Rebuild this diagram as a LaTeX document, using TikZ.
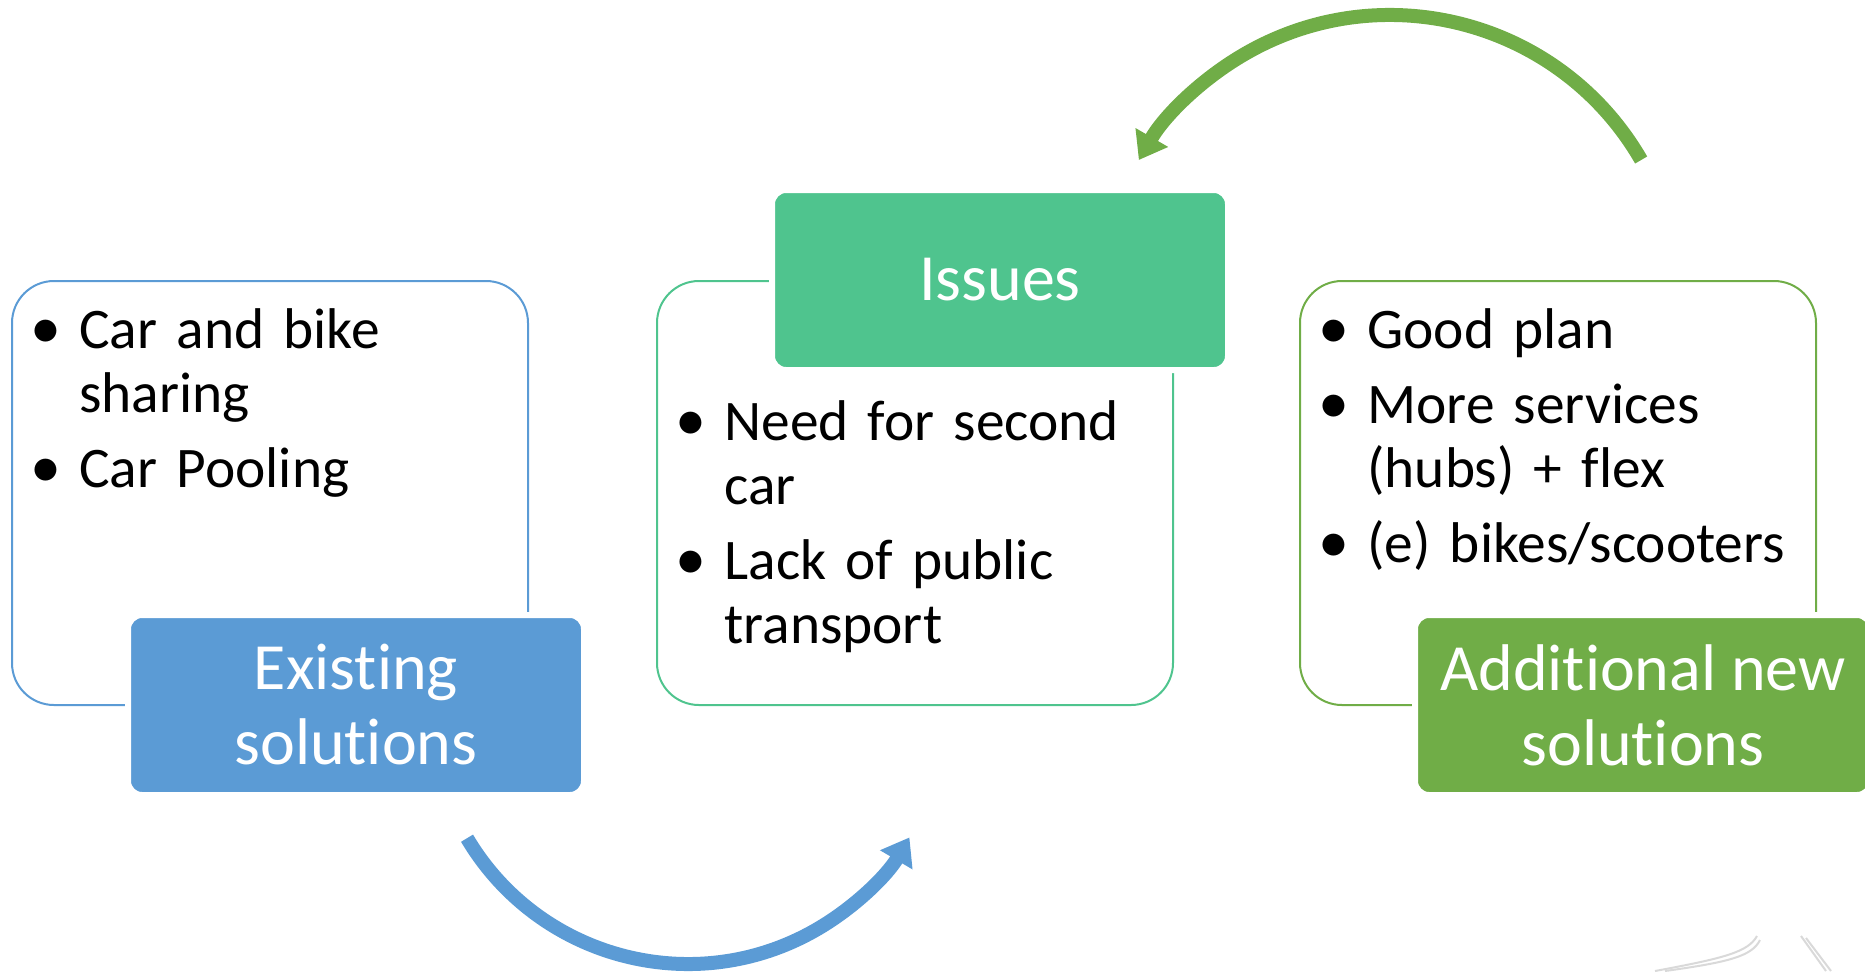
\documentclass[tikz,border=0pt]{standalone}
\usepackage{fontspec}
\setmainfont{Carlito}[Ligatures=NoCommon]
\usepackage{enumitem}
\usetikzlibrary{arrows.meta}

\definecolor{solblue}{HTML}{5B9BD5}
\definecolor{issuegreen}{HTML}{4FC48E}
\definecolor{newgreen}{HTML}{70AD47}

\tikzset{
  listbox/.style={draw=#1, line width=1pt, rounded corners=21pt, minimum width=258pt, minimum height=212pt},
  headbox/.style={fill=#1, draw=white, line width=3pt, rounded corners=7pt, minimum width=228pt, minimum height=90pt,
    inner sep=2pt, text=white, align=center, font=\fontsize{33}{37.5}\selectfont},
  itemtext/.style={anchor=north west, inner sep=0pt, text width=260pt, font=\fontsize{28.7}{32}\selectfont},
  cyclearrow/.style={draw=#1, line width=7pt, -{Triangle[length=13pt,width=18pt]}}
}

\newcommand{\pointlist}[1]{%
  \begin{itemize}[label=\hspace*{-3.5pt}\scalebox{1.08}{\textbullet}, align=left, leftmargin=21pt, labelwidth=21pt, labelsep=0pt,
    itemsep=5.5pt, topsep=0pt, parsep=0pt, partopsep=0pt]#1\end{itemize}}

\begin{document}
\begin{tikzpicture}[x=0.5pt, y=-0.5pt]
  \clip (0,0) rectangle (1865,971);

  % existing solutions
  \node[listbox=solblue] (exbox) at (270,493) {};
  \node[itemtext] (exlist) at (37,284) {\pointlist{\item Car and bike\newline sharing \item Car Pooling}};
  \node[headbox=solblue] (existing) at (356,705) {Existing\\solutions};

  % issues
  \node[listbox=issuegreen] (issbox) at (915,493) {};
  \node[itemtext] (isslist) at (682,376) {\pointlist{\item Need for second\newline car \item Lack of public\newline transport}};
  \node[headbox=issuegreen] (issues) at (1000,280) {Issues};

  % additional new solutions
  \node[listbox=newgreen] (newbox) at (1558,493) {};
  \node[itemtext] (newlist) at (1325,284) {\pointlist{\item Good plan \item More services\newline (hubs) + flex \item (e) bikes/scooters}};
  \node[headbox=newgreen] (newsol) at (1643,705) {Additional new\\solutions};

  % cycle arrows
  \coordinate (bluecentre) at (688,707);
  \coordinate (greencentre) at (1390,305);
  \draw[cyclearrow=solblue] (bluecentre) ++(149.3:257) arc[start angle=149.3, end angle=30.5, radius=257];
  \draw[cyclearrow=newgreen] (greencentre) ++(-30:290) arc[start angle=-30, end angle=-150, radius=290];

  % faint corner marks
  \draw[gray!30, line width=1pt] (1655,971) .. controls (1725,958) and (1748,952) .. (1757,936);
  \draw[gray!30, line width=1pt] (1665,971) .. controls (1730,962) and (1752,956) .. (1760,940);
  \draw[gray!30, line width=1pt] (1801,936) -- (1826,971);
  \draw[gray!30, line width=1pt] (1806,938) -- (1831,971);
\end{tikzpicture}
\end{document}
